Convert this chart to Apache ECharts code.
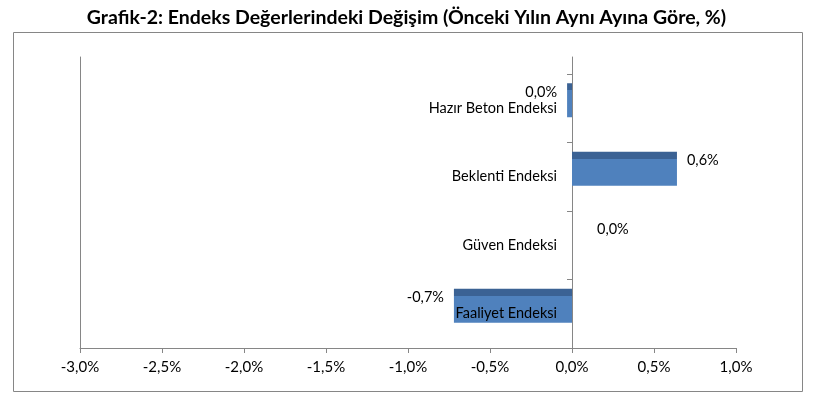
<!DOCTYPE html>
<html>
<head>
<meta charset="utf-8">
<script src="https://cdn.jsdelivr.net/npm/echarts@6/dist/echarts.min.js"></script>
<style>
  html, body { margin: 0; padding: 0; background: #fff; }
  #chart { width: 813px; height: 398px; }
</style>
</head>
<body>
<div id="chart"></div>
<script>
// veriler (alttan üste)
var categories = ['Faaliyet Endeksi', 'Güven Endeksi', 'Beklenti Endeksi', 'Hazır Beton Endeksi'];
var changes = [-0.72, 0.0, 0.64, -0.03];

var fontFam = 'Lato, "Liberation Sans", sans-serif';
var axisGray = '#868686';

function pct(v) {
  var r = Math.round(v * 10) / 10;
  return r.toFixed(1).replace('.', ',') + '%';
}

// bar etiketleri: negatif sola, pozitif sağa
var barData = changes.map(function(v) {
  return {
    value: v,
    label: {
      position: v < 0 ? 'left' : 'right',
      distance: v === 0 ? 25 : 10
    }
  };
});

var barColor = {
  type: 'linear', x: 0, y: 0, x2: 0, y2: 1,
  colorStops: [
    { offset: 0, color: '#3b6294' },
    { offset: 0.2, color: '#3b6294' },
    { offset: 0.2, color: '#4f81bd' },
    { offset: 1, color: '#4f81bd' }
  ]
};

var myChart = echarts.init(document.getElementById('chart'));

var option = {
  animation: false,
  title: {
    text: 'Grafik-2: Endeks Değerlerindeki Değişim (Önceki Yılın Aynı Ayına Göre, %)',
    left: 'center',
    top: 3,
    textStyle: { fontFamily: fontFam, fontWeight: 'bold', fontSize: 19.5, color: '#000' }
  },
  graphic: [{
    type: 'rect',
    shape: { x: 13.5, y: 32.5, width: 789, height: 359 },
    style: { fill: 'none', stroke: axisGray, lineWidth: 1 },
    silent: true
  }],
  grid: [
    // 0: arka duvar (sol çizgi)
    { left: 80, right: 77, top: 57, bottom: 50, outerBoundsMode: 'none' },
    // 1: x ekseni
    { left: 80, right: 77, top: 74, bottom: 50, outerBoundsMode: 'none' },
    // 2: barlar (3B görünüm için yukarı kaydırılmış)
    { left: 80, right: 77, top: 66, bottom: 58, outerBoundsMode: 'none' },
    // 3: sıfır çizgisi
    { left: 572, right: 77, top: 57, bottom: 50, outerBoundsMode: 'none' },
    // 4: kategori etiketleri sıfırda
    { left: 572, right: 77, top: 74, bottom: 50, outerBoundsMode: 'none' }
  ],
  xAxis: [
    { gridIndex: 0, type: 'value', min: -3, max: 1, show: false },
    {
      gridIndex: 1, type: 'value', min: -3, max: 1, interval: 0.5,
      axisLine: { show: true, onZero: false, lineStyle: { color: axisGray } },
      axisTick: { show: true, length: 5, lineStyle: { color: axisGray } },
      splitLine: { show: false },
      axisLabel: {
        margin: 12, fontFamily: fontFam, fontSize: 15, color: '#000',
        formatter: function(v) { return pct(v); }
      }
    },
    { gridIndex: 2, type: 'value', min: -3, max: 1, show: false },
    { gridIndex: 3, type: 'value', min: 0, max: 1, show: false },
    { gridIndex: 4, type: 'value', min: 0, max: 1, show: false }
  ],
  yAxis: [
    {
      gridIndex: 0, type: 'category', data: categories,
      axisLine: { onZero: false, lineStyle: { color: axisGray } },
      axisTick: { show: false }, axisLabel: { show: false }
    },
    { gridIndex: 1, type: 'category', data: categories, show: false },
    { gridIndex: 2, type: 'category', data: categories, show: false },
    {
      gridIndex: 3, type: 'category', data: categories,
      axisLine: { onZero: false, lineStyle: { color: axisGray } },
      axisTick: { show: false }, axisLabel: { show: false }
    },
    {
      gridIndex: 4, type: 'category', data: categories, z: 5,
      axisLine: { show: false, onZero: false },
      axisTick: { show: true, length: 5, lineStyle: { color: axisGray } },
      axisLabel: { margin: 15, fontFamily: fontFam, fontSize: 14.5, color: '#000' }
    }
  ],
  series: [{
    type: 'bar',
    xAxisIndex: 2,
    yAxisIndex: 2,
    data: barData,
    barWidth: 34,
    itemStyle: { color: barColor },
    label: {
      show: true,
      offset: [0, -8],
      fontFamily: fontFam,
      fontSize: 14.5,
      color: '#000',
      formatter: function(p) { return pct(p.value); }
    }
  }]
};

myChart.setOption(option);
</script>
</body>
</html>
